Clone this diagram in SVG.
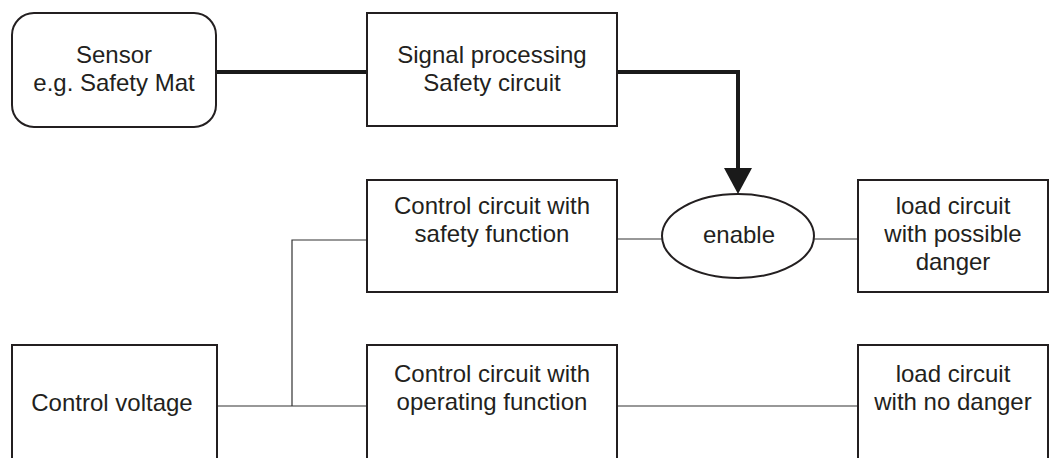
<svg xmlns="http://www.w3.org/2000/svg" width="1050" height="458" viewBox="0 0 1050 458">
<style>
.box{fill:#fff;stroke:#231f20;stroke-width:2}
.t{font-family:"Liberation Sans",Arial,Helvetica,sans-serif;font-size:24px;fill:#231f20;text-anchor:middle}
.thin{fill:none;stroke:#333;stroke-width:1.2}
.thick{fill:none;stroke:#1a1a1a;stroke-width:4}
</style>
<defs>
<marker id="ah" markerUnits="userSpaceOnUse" markerWidth="26" markerHeight="28" refX="0" refY="14" orient="auto" viewBox="0 0 26 28">
<path d="M0,0 L26,14 L0,28 Z" fill="#1a1a1a"/>
</marker>
</defs>
<rect width="1050" height="458" fill="#fff"/>
<g id="connectors">
<path class="thick" d="M216,72 H367"/>
<path class="thick" d="M617,72 H738 V168" marker-end="url(#ah)"/>
<path class="thin" d="M367,240 H292 V406"/>
<path class="thin" d="M217,406 H367"/>
<path class="thin" d="M617,239 H662"/>
<path class="thin" d="M814,239 H858"/>
<path class="thin" d="M617,406 H858"/>
</g>
<g id="sensor">
<rect class="box" x="12" y="13" width="204" height="114" rx="22"/>
<text class="t" x="114" y="63">Sensor</text>
<text class="t" x="114" y="91">e.g. Safety Mat</text>
</g>
<g id="signal">
<rect class="box" x="367" y="13" width="250" height="113"/>
<text class="t" x="492" y="63">Signal processing</text>
<text class="t" x="492" y="91">Safety circuit</text>
</g>
<g id="ctrl-safety">
<rect class="box" x="367" y="180" width="250" height="112"/>
<text class="t" x="492" y="214">Control circuit with</text>
<text class="t" x="492" y="242">safety function</text>
</g>
<g id="enable">
<ellipse class="box" cx="738" cy="236" rx="76" ry="42"/>
<text class="t" x="739" y="243">enable</text>
</g>
<g id="load-danger">
<rect class="box" x="858" y="180" width="190" height="112"/>
<text class="t" x="953" y="214">load circuit</text>
<text class="t" x="953" y="242">with possible</text>
<text class="t" x="953" y="270">danger</text>
</g>
<g id="ctrl-voltage">
<rect class="box" x="12" y="345" width="205" height="130"/>
<text class="t" x="112" y="411">Control voltage</text>
</g>
<g id="ctrl-operating">
<rect class="box" x="367" y="345" width="250" height="130"/>
<text class="t" x="492" y="382">Control circuit with</text>
<text class="t" x="492" y="410">operating function</text>
</g>
<g id="load-nodanger">
<rect class="box" x="858" y="345" width="190" height="130"/>
<text class="t" x="953" y="382">load circuit</text>
<text class="t" x="953" y="410">with no danger</text>
</g>
</svg>
